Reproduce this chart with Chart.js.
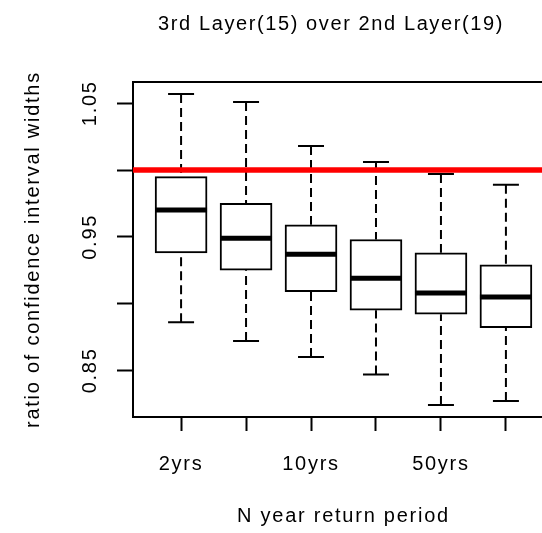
<!DOCTYPE html>
<html>
<head>
<meta charset="utf-8">
<script src="https://cdn.jsdelivr.net/npm/chart.js@4/dist/chart.umd.min.js"></script>
<style>
  html, body { margin: 0; padding: 0; background: #ffffff; overflow: hidden; }
  #wrap { position: relative; width: 560px; height: 533px; }
</style>
</head>
<body>
<div id="wrap"><canvas id="c"></canvas></div>
<script>
// ---- data ----
const categories   = ['2yrs', '5yrs', '10yrs', '20yrs', '50yrs', '100yrs'];
const xTickLabels  = ['2yrs', '', '10yrs', '', '50yrs', ''];
const whiskerHigh  = [1.057, 1.051, 1.018, 1.006, 0.997, 0.989];
const q3           = [0.995, 0.975, 0.959, 0.948, 0.938, 0.929];
const median       = [0.970, 0.949, 0.937, 0.919, 0.908, 0.905];
const q1           = [0.938, 0.925, 0.909, 0.895, 0.892, 0.882];
const whiskerLow   = [0.886, 0.872, 0.860, 0.847, 0.824, 0.827];
const yTicks       = [0.85, 0.90, 0.95, 1.00, 1.05];
const yTickLabels  = ['0.85', '', '0.95', '', '1.05'];
const refLine      = 1.0;
const titleText    = '3rd Layer(15) over 2nd Layer(19)';
const xTitle       = 'N year return period';
const yTitle       = 'ratio of confidence interval widths';

// ---- derived point lists ----
const pos = categories.map((c, i) => i + 1);
const xMin = 0.26, xMax = categories.length + 0.74;
const boxHalf = 0.4, stapleHalf = 0.2;

const boxData = pos.map((x, i) => ({ x: x, y: [q1[i], q3[i]] }));
const medianPts = [];
const staplePts = [];
const whiskerPts = [];
pos.forEach((x, i) => {
  medianPts.push({ x: x - boxHalf, y: median[i] }, { x: x + boxHalf, y: median[i] }, { x: x, y: null });
  staplePts.push({ x: x - stapleHalf, y: whiskerHigh[i] }, { x: x + stapleHalf, y: whiskerHigh[i] }, { x: x, y: null });
  staplePts.push({ x: x - stapleHalf, y: whiskerLow[i] }, { x: x + stapleHalf, y: whiskerLow[i] }, { x: x, y: null });
  whiskerPts.push({ x: x, y: whiskerHigh[i] }, { x: x, y: q3[i] }, { x: x, y: null });
  whiskerPts.push({ x: x, y: whiskerLow[i] }, { x: x, y: q1[i] }, { x: x, y: null });
});
const refPts = [{ x: xMin, y: refLine }, { x: xMax, y: refLine }];

const FONT = "'Liberation Sans', Arial, Helvetica, sans-serif";
Chart.defaults.font.family = FONT;
Chart.defaults.font.size = 20;
Chart.defaults.color = '#000000';

const SPACING = '1.75px';

const rPlugin = {
  id: 'rStyle',
  beforeLayout(chart) { chart.ctx.letterSpacing = SPACING; },
  beforeDraw(chart) { chart.ctx.letterSpacing = SPACING; },
  beforeDatasetsDraw(chart) {
    const { ctx, chartArea: a } = chart;
    ctx.save();
    ctx.strokeStyle = '#000000';
    ctx.lineWidth = 2;
    ctx.strokeRect(a.left, a.top, a.right - a.left, a.bottom - a.top);
    ctx.restore();
  },
  afterDraw(chart) {
    const { ctx } = chart;
    const ys = chart.scales.y;
    ctx.save();
    ctx.fillStyle = '#000000';
    ctx.font = '20px ' + FONT;
    ctx.letterSpacing = SPACING;
    ctx.textAlign = 'center';
    ctx.textBaseline = 'middle';
    yTicks.forEach((v, i) => {
      if (!yTickLabels[i]) return;
      const py = ys.getPixelForValue(v);
      ctx.save();
      ctx.translate(90, py);
      ctx.rotate(-Math.PI / 2);
      ctx.fillText(yTickLabels[i], 0, 0);
      ctx.restore();
    });
    ctx.letterSpacing = '1.6px';
    ctx.fillText(titleText, 331, 24);
    ctx.restore();
  }
};

new Chart(document.getElementById('c'), {
  type: 'bar',
  data: {
    datasets: [
      { type: 'line', label: 'reference', data: refPts, borderColor: '#ff0000', borderWidth: 5.5,
        pointRadius: 0, tension: 0, borderCapStyle: 'butt' },
      { type: 'line', label: 'median', data: medianPts, borderColor: '#000000', borderWidth: 5,
        pointRadius: 0, tension: 0, spanGaps: false, borderCapStyle: 'butt' },
      { type: 'line', label: 'staples', data: staplePts, borderColor: '#000000', borderWidth: 2,
        pointRadius: 0, tension: 0, spanGaps: false, borderCapStyle: 'butt' },
      { type: 'line', label: 'whiskers', data: whiskerPts, borderColor: '#000000', borderWidth: 2,
        borderDash: [9, 5], pointRadius: 0, tension: 0, spanGaps: false, borderCapStyle: 'butt' },
      { type: 'bar', label: 'IQR', data: boxData, backgroundColor: '#ffffff', borderColor: '#000000',
        borderWidth: 2, borderSkipped: false, barThickness: 52, grouped: false }
    ]
  },
  options: {
    responsive: true,
    maintainAspectRatio: false,
    devicePixelRatio: 1,
    animation: false,
    events: [],
    layout: { padding: { top: 82, left: 0, right: 6, bottom: 0 } },
    plugins: { legend: { display: false }, tooltip: { enabled: false }, title: { display: false } },
    scales: {
      x: {
        type: 'linear',
        offset: false,
        min: xMin,
        max: xMax,
        afterBuildTicks(s) { s.ticks = pos.map(v => ({ value: v })); },
        afterFit(s) { s.height = 116; },
        ticks: {
          autoSkip: false, maxRotation: 0, minRotation: 0, padding: 21,
          font: { size: 20 }, color: '#000000',
          callback: (v) => xTickLabels[Math.round(v) - 1] || ''
        },
        grid: { display: true, offset: false, drawOnChartArea: false, drawTicks: true, tickLength: 14,
                tickColor: '#000000', tickWidth: 2 },
        border: { display: false },
        title: { display: true, text: xTitle, font: { size: 20 }, color: '#000000',
                 padding: { top: 0, bottom: 4.5 } }
      },
      y: {
        type: 'linear',
        min: 0.8151,
        max: 1.0659,
        afterBuildTicks(s) { s.ticks = yTicks.map(v => ({ value: v })); },
        afterFit(s) { s.width = 133; },
        ticks: { display: false },
        grid: { display: true, drawOnChartArea: false, drawTicks: true, tickLength: 16,
                tickColor: '#000000', tickWidth: 2 },
        border: { display: false },
        title: { display: true, text: yTitle, font: { size: 20 }, color: '#000000',
                 padding: { top: 21, bottom: 0 } }
      }
    }
  },
  plugins: [rPlugin]
});
</script>
</body>
</html>
